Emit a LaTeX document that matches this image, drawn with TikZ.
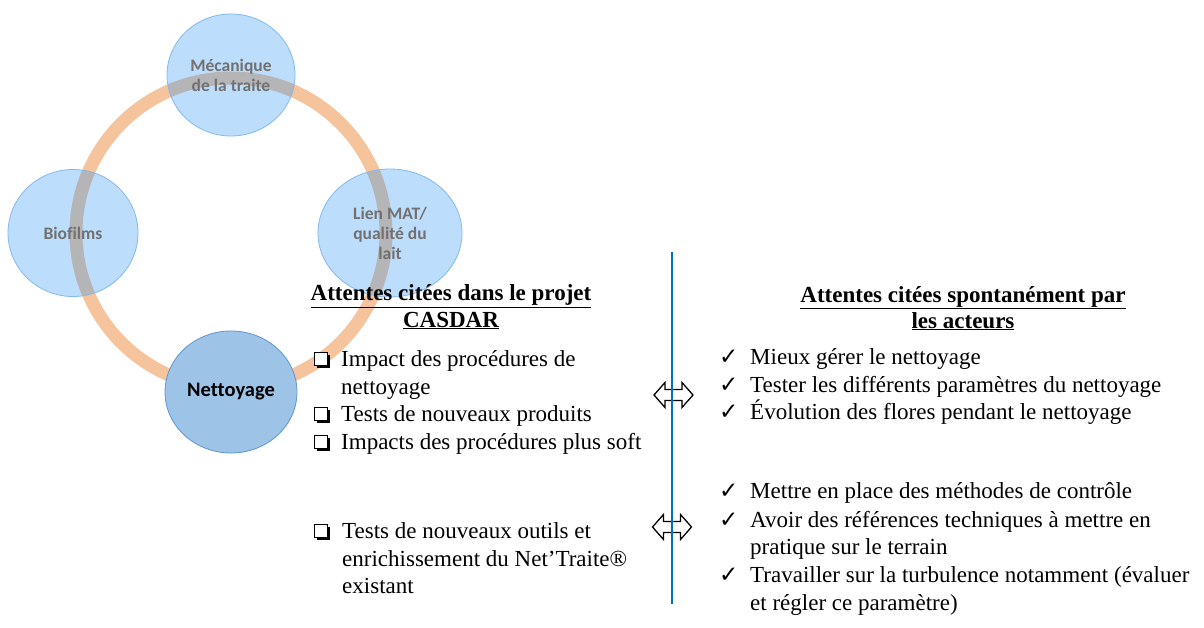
\documentclass[tikz,border=0pt]{standalone}
\usepackage{fontspec}
\setmainfont{Liberation Serif}
\newfontfamily\calfont[Ligatures=NoCommon]{Carlito}
\newfontfamily\symfont{DejaVu Sans}
\usetikzlibrary{shapes.geometric}
\definecolor{ringc}{RGB}{245,196,156}
\definecolor{circc}{RGB}{35,145,248}
\definecolor{circb}{RGB}{130,185,240}
\definecolor{netc}{RGB}{157,195,230}
\definecolor{netb}{RGB}{95,150,210}
\definecolor{linec}{RGB}{0,112,192}
\definecolor{ctext}{RGB}{115,112,112}
\tikzset{
  topic/.style={ellipse, inner sep=0pt, fill=circc, fill opacity=0.3, text opacity=1,
    draw=circb, draw opacity=1, line width=0.8pt, text=ctext, align=center,
    font=\calfont\bfseries\fontsize{17.5}{20}\selectfont},
  central/.style={ellipse, inner sep=0pt, fill=netc, draw=netb, line width=0.8pt,
    font=\calfont\bfseries\fontsize{20.5}{22}\selectfont},
  txt/.style={anchor=base west, inner sep=0pt, font=\fontsize{23}{28}\selectfont},
  head/.style={anchor=base, inner sep=0pt, font=\bfseries\fontsize{23}{28}\selectfont},
  chk/.style={anchor=base west, inner sep=0pt, font=\symfont\fontsize{23}{24}\selectfont},
  dbl/.style={draw=black, fill=white, line width=1.3pt, line join=miter},
}
\newcommand{\qbox}[3]{%
  \fill[black] (#1+2.5,#2+2.5) rectangle ++(13,13);
  \filldraw[fill=white,draw=black,line width=1pt] (#1,#2) rectangle ++(13,13);
  \coordinate (#3) at (#1,#2);}
\newcommand{\dblarrow}[3]{%
  \coordinate (#3) at (#1,#2);
  \draw[dbl] (#1-19.5,#2) -- (#1-8.5,#2-12.5) -- (#1-8.5,#2-5.5) -- (#1+8.5,#2-5.5)
    -- (#1+8.5,#2-12.5) -- (#1+19.5,#2) -- (#1+8.5,#2+12.5) -- (#1+8.5,#2+5.5)
    -- (#1-8.5,#2+5.5) -- (#1-8.5,#2+12.5) -- cycle;}
\begin{document}
\begin{tikzpicture}[x=1pt,y=-1pt]
\useasboundingbox (0,0) rectangle (1204,628);
\fill[white] (0,0) rectangle (1204,628);
% ring
\draw[ringc, line width=13pt] (231,233) circle (155);
% topic circles
\node[topic, minimum width=128pt, minimum height=122pt] (meca) at (231,75) {Mécanique\\de la traite};
\node[topic, minimum width=130pt, minimum height=127pt] (bio) at (73,233) {Biofilms};
\node[topic, minimum width=144pt, minimum height=128pt] (lien) at (390,233) {Lien MAT/\\qualité du\\lait};
\node[central, minimum width=132pt, minimum height=122pt] (net) at (231,392) {Nettoyage};
% separating line and arrows
\dblarrow{673.5}{395}{arrA}
\dblarrow{672}{527}{arrB}
\coordinate (lineTop) at (672,252);
\coordinate (lineBot) at (672,604);
\draw[linec, line width=2.4pt] (lineTop) -- (lineBot);
% headings
\node[head] (h1a) at (451,301) {\underline{Attentes citées dans le projet}};
\node[head] (h1b) at (451,327) {\underline{CASDAR}};
\node[head] (h2a) at (963,302) {\underline{Attentes citées spontanément par}};
\node[head] (h2b) at (963,328) {\underline{les acteurs}};
% left list top
\qbox{314}{352}{b1}
\node[txt] (l1) at (341,366) {Impact des procédures de};
\node[txt] (l2) at (341,394) {nettoyage};
\qbox{314}{407}{b2}
\node[txt] (l3) at (341,421) {Tests de nouveaux produits};
\qbox{314}{435}{b3}
\node[txt] (l4) at (341,449) {Impacts des procédures plus soft};
% left list bottom
\qbox{314}{524}{b4}
\node[txt] (l5) at (342,538) {Tests de nouveaux outils et};
\node[txt] (l6) at (342,566) {enrichissement du Net’Traite®};
\node[txt] (l7) at (342,593) {existant};
% right list top
\node[chk] (c1) at (719,364) {✓};
\node[txt] (r1) at (750,364) {Mieux gérer le nettoyage};
\node[chk] (c2) at (719,392) {✓};
\node[txt] (r2) at (750,392) {Tester les différents paramètres du nettoyage};
\node[chk] (c3) at (719,419) {✓};
\node[txt] (r3) at (750,419) {Évolution des flores pendant le nettoyage};
% right list bottom
\node[chk] (c4) at (719,498) {✓};
\node[txt] (r4) at (750,498) {Mettre en place des méthodes de contrôle};
\node[chk] (c5) at (719,527) {✓};
\node[txt] (r5) at (750,527) {Avoir des références techniques à mettre en};
\node[txt] (r6) at (750,554) {pratique sur le terrain};
\node[chk] (c6) at (719,582) {✓};
\node[txt] (r7) at (750,582) {Travailler sur la turbulence notamment (évaluer};
\node[txt] (r8) at (750,610) {et régler ce paramètre)};
\end{tikzpicture}
\end{document}
